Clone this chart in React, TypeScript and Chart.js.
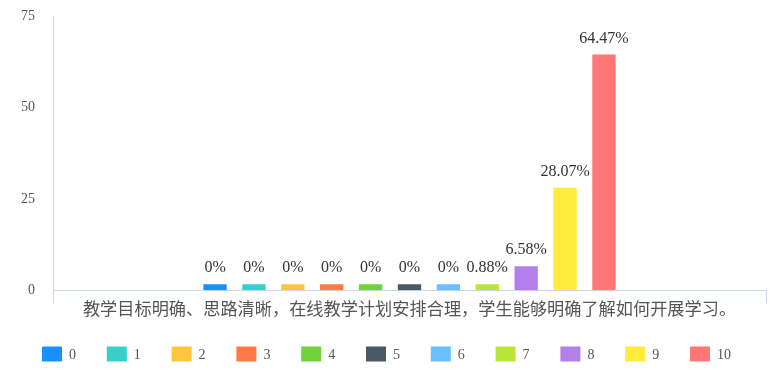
import React, { useEffect, useRef } from "react";
import { Chart, registerables } from "chart.js";

Chart.register(...registerables);

const categories = ["教学目标明确、思路清晰，在线教学计划安排合理，学生能够明确了解如何开展学习。"];
const seriesNames = ["0", "1", "2", "3", "4", "5", "6", "7", "8", "9", "10"];
const seriesValues = [0, 0, 0, 0, 0, 0, 0, 0.88, 6.58, 28.07, 64.47];
const seriesColors = [
  "#1890ff", "#36cfc9", "#ffc53d", "#ff7a45", "#73d13d", "#475a66",
  "#69c0ff", "#bae637", "#b37feb", "#ffec3d", "#ff7875",
];
const yTicks = [0, 25, 50, 75];

const SERIF = "'Liberation Serif', 'Times New Roman', 'Noto Sans CJK SC', serif";
const AXIS_COLOR = "#ccd6eb";

const valueLabels = {
  id: "valueLabels",
  afterDatasetsDraw(chart: any) {
    const ctx = chart.ctx;
    ctx.save();
    ctx.font = `16px ${SERIF}`;
    ctx.fillStyle = "#333";
    ctx.textAlign = "center";
    ctx.textBaseline = "alphabetic";
    chart.data.datasets.forEach((ds: any, i: number) => {
      const meta = chart.getDatasetMeta(i);
      meta.data.forEach((bar: any, j: number) => {
        const v = ds.data[j];
        ctx.fillText(`${v}%`, bar.x, bar.y - 12);
      });
    });
    ctx.restore();
  },
};

const LEGEND = { startX: 42, pitch: 64.8, centerY: 354, boxW: 20, boxH: 15, textGap: 7 };

const bottomLegend = {
  id: "bottomLegend",
  afterDraw(chart: any) {
    const ctx = chart.ctx;
    ctx.save();
    ctx.font = `14px ${SERIF}`;
    ctx.textAlign = "left";
    ctx.textBaseline = "middle";
    chart.data.datasets.forEach((ds: any, i: number) => {
      const x = LEGEND.startX + i * LEGEND.pitch;
      ctx.fillStyle = ds.backgroundColor;
      ctx.fillRect(x, LEGEND.centerY - LEGEND.boxH / 2, LEGEND.boxW, LEGEND.boxH);
      ctx.fillStyle = "#555";
      ctx.fillText(ds.label, x + LEGEND.boxW + LEGEND.textGap, LEGEND.centerY + 1);
    });
    ctx.restore();
  },
};

export default function App() {
  const ref = useRef<HTMLCanvasElement>(null);
  useEffect(() => {
    document.body.style.margin = "0";
    const chart = new Chart(ref.current!, {
      type: "bar",
      data: {
        labels: categories,
        datasets: seriesNames.map((name, i) => ({
          label: name,
          data: [seriesValues[i]],
          backgroundColor: seriesColors[i],
          borderWidth: 0,
          minBarLength: 6,
          categoryPercentage: 0.6,
          barPercentage: 0.6,
        })),
      },
      options: {
        responsive: false,
        animation: false,
        layout: { padding: { top: 16, left: 3, right: 8, bottom: 52 } },
        plugins: {
          tooltip: { enabled: false },
          legend: { display: false },
        },
        scales: {
          x: {
            grid: {
              drawOnChartArea: false,
              drawTicks: true,
              tickLength: 13,
              color: AXIS_COLOR,
            },
            border: { display: true, color: AXIS_COLOR, width: 1 },
            ticks: {
              padding: -3,
              color: "#555",
              font: { size: 17.2, family: SERIF },
              maxRotation: 0,
            },
          },
          y: {
            min: 0,
            max: 75,
            afterBuildTicks: (axis: any) => {
              axis.ticks = yTicks.map((v) => ({ value: v }));
            },
            afterFit: (axis: any) => {
              axis.paddingTop = 0;
              axis.paddingBottom = 0;
            },
            grid: { display: false, drawTicks: false },
            border: { display: true, color: AXIS_COLOR, width: 1 },
            ticks: {
              padding: 18,
              color: "#555",
              font: { size: 14, family: SERIF },
            },
          },
        },
      },
      plugins: [valueLabels, bottomLegend],
    });
    return () => chart.destroy();
  }, []);
  return (
    <div style={{ width: 774, height: 370 }}>
      <canvas ref={ref} width={774} height={370} style={{ width: 774, height: 370 }} />
    </div>
  );
}
